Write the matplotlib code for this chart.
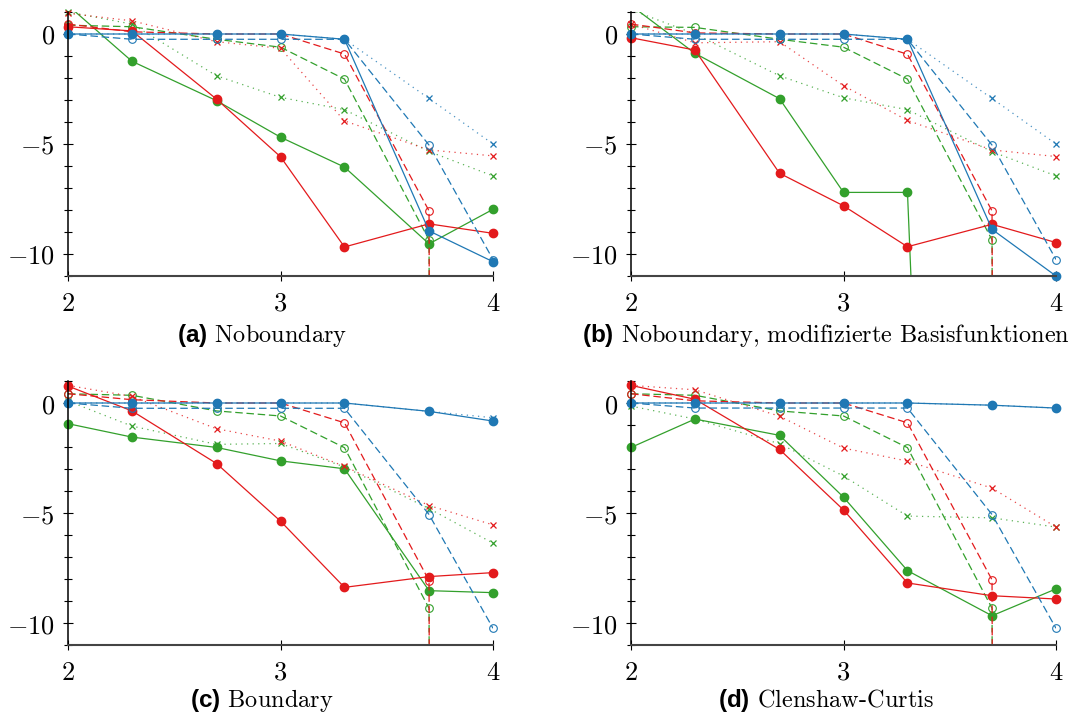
import matplotlib
matplotlib.use('Agg')
import matplotlib.pyplot as plt
import numpy as np

# Schriften: CM fuer Zahlen/Text, fette Sans fuer (a)...(d)
plt.rcParams.update({
    'mathtext.fontset': 'custom',
    'mathtext.rm': 'cmr10',
    'mathtext.it': 'cmmi10',
    'mathtext.bf': 'Liberation Sans:bold',
    'mathtext.fallback': 'cm',
})

# Stuetzstellen (log10 der Punktanzahl)
n_points = [100, 200, 500, 1000, 2000, 5000, 10000]
x = np.log10(n_points)

# (a) Noboundary
a_blue = [0, 0, 0, 0, -0.24, -8.95, -10.35]
a_blue_dash = [0, -0.24, -0.24, -0.24, -0.24, -5.05, -10.25]
a_blue_dot = [0, 0, 0, 0, -0.24, -2.93, -5.0]
a_red = [0.33, 0.14, -2.96, -5.58, -9.68, -8.63, -9.06]
a_red_dash = [0.45, 0.1, 0.0, 0.0, -0.91, -8.04, -1000]
a_red_dot = [0.94, 0.6, -0.35, -0.65, -3.95, -5.27, -5.54]
a_green = [1.3, -1.24, -3.03, -4.69, -6.05, -9.54, -7.97]
a_green_dash = [0.4, 0.33, -0.24, -0.6, -2.05, -9.36, -1000]
a_green_dot = [1.0, 0.45, -1.9, -2.88, -3.44, -5.34, -6.45]

# (b) Noboundary, modifizierte Basisfunktionen
b_blue = [0, 0, 0, 0, -0.24, -8.88, -11.0]
b_blue_dash = [0, -0.24, -0.24, -0.24, -0.24, -5.05, -10.25]
b_blue_dot = [0, 0, 0, 0, -0.24, -2.93, -5.0]
b_red = [-0.17, -0.73, -6.33, -7.81, -9.67, -8.65, -9.48]
b_red_dash = [0.45, 0.05, 0.0, 0.0, -0.92, -8.04, -1000]
b_red_dot = [0.45, -0.4, -0.35, -2.35, -3.93, -5.27, -5.57]
b_green = [1.3, -0.88, -2.94, -7.2, -7.2, -100, -100]
b_green_dash = [0.33, 0.3, -0.24, -0.6, -2.05, -9.36, -1000]
b_green_dot = [1.1, 0.0, -1.9, -2.9, -3.44, -5.35, -6.45]

# (c) Boundary
c_blue = [0, 0, 0, 0, 0, -0.38, -0.82]
c_blue_dash = [0, -0.24, -0.24, -0.24, -0.24, -5.07, -10.24]
c_blue_dot = [0, 0, 0, 0, 0, -0.38, -0.67]
c_red = [0.77, -0.36, -2.75, -5.37, -8.38, -7.89, -7.71]
c_red_dash = [0.42, 0.15, 0.0, 0.0, -0.9, -8.07, -1000]
c_red_dot = [0.8, 0.3, -1.17, -1.73, -2.88, -4.66, -5.54]
c_green = [-0.94, -1.55, -2.02, -2.63, -2.99, -8.53, -8.62]
c_green_dash = [0.42, 0.35, -0.36, -0.59, -2.03, -9.33, -1000]
c_green_dot = [0.09, -1.05, -1.88, -1.84, -2.91, -4.8, -6.37]

# (d) Clenshaw-Curtis
d_blue = [0, 0, 0, 0, 0, -0.1, -0.23]
d_blue_dash = [0, -0.23, -0.23, -0.23, -0.23, -5.07, -10.24]
d_blue_dot = [0, 0, 0, 0, 0, -0.1, -0.23]
d_red = [0.8, 0.17, -2.11, -4.86, -8.18, -8.76, -8.91]
d_red_dash = [0.42, 0.1, 0.0, 0.0, -0.9, -8.04, -1000]
d_red_dot = [0.8, 0.6, -0.6, -2.05, -2.64, -3.87, -5.64]
d_green = [-2.02, -0.73, -1.47, -4.28, -7.62, -9.67, -8.45]
d_green_dash = [0.42, 0.35, -0.36, -0.59, -2.03, -9.33, -1000]
d_green_dot = [-0.14, -0.73, -1.85, -3.32, -5.14, -5.22, -5.64]

captions = ['(a)', '(b)', '(c)', '(d)']
titles = ['Noboundary', 'Noboundary, modifizierte Basisfunktionen',
          'Boundary', 'Clenshaw-Curtis']

blue, red, green = '#1f78b4', '#e31a1c', '#33a02c'
ylim = (-11, 1)

panels = [
    [(a_green_dot, a_green_dash, a_green), (a_red_dot, a_red_dash, a_red), (a_blue_dot, a_blue_dash, a_blue)],
    [(b_green_dot, b_green_dash, b_green), (b_red_dot, b_red_dash, b_red), (b_blue_dot, b_blue_dash, b_blue)],
    [(c_green_dot, c_green_dash, c_green), (c_red_dot, c_red_dash, c_red), (c_blue_dot, c_blue_dash, c_blue)],
    [(d_green_dot, d_green_dash, d_green), (d_red_dot, d_red_dash, d_red), (d_blue_dot, d_blue_dash, d_blue)],
]
colors = [green, red, blue]

W, H = 1081, 715
fig = plt.figure(figsize=(W / 100, H / 100), dpi=100)

# Achsenpositionen in Pixeln: links, oben
lefts = [68, 631, 68, 631]
tops = [12, 12, 381, 381]
cap_x = [262, 826, 262, 826]
cap_y = [342, 342, 707, 707]
aw, ah = 425, 264


def draw_series(ax, y, color, style):
    y = np.asarray(y, dtype=float)
    alpha = 1.0
    if style == 'solid':
        ls, mk, kw = '-', 'o', dict(markersize=6, markerfacecolor=color, markeredgecolor=color)
    elif style == 'dash':
        ls, mk, kw = (0, (6, 3)), 'o', dict(markersize=5.5, markerfacecolor='none',
                                            markeredgecolor=color, markeredgewidth=0.8)
    else:
        alpha = 0.8
        ls, mk, kw = (0, (1, 3.5)), 'x', dict(markersize=4.5, markeredgecolor=color,
                                              markeredgewidth=0.9)
    ax.plot(x, y, linestyle=ls, color=color, linewidth=0.9, alpha=alpha)
    ym = np.where((y >= ylim[0] - 0.05) & (y <= ylim[1]), y, np.nan)
    ax.plot(x, ym, linestyle='none', marker=mk, clip_on=False, **kw)


for i, panel in enumerate(panels):
    ax = fig.add_axes([lefts[i] / W, (H - tops[i] - ah) / H, aw / W, ah / H])
    for color, (dot, dash, solid) in zip(colors, panel):
        draw_series(ax, dot, color, 'dot')
        draw_series(ax, dash, color, 'dash')
        draw_series(ax, solid, color, 'solid')

    ax.set_xlim(2, 4)
    ax.set_ylim(*ylim)
    ax.spines['top'].set_visible(False)
    ax.spines['right'].set_visible(False)
    ax.spines['left'].set_linewidth(1.1)
    ax.spines['bottom'].set_linewidth(1.5)
    ax.spines['bottom'].set_color('#444444')
    ax.set_xticks([2, 3, 4], labels=['$2$', '$3$', '$4$'])
    ax.set_yticks([-10, -5, 0], labels=['$-10$', '$-5$', '$0$'])
    ax.set_yticks(np.arange(-11, 2), minor=True)
    ax.tick_params(which='major', direction='inout', length=7, width=0.8,
                   labelsize=19, color='black')
    ax.tick_params(which='minor', direction='inout', length=6, width=0.8)
    ax.tick_params(axis='x', which='minor', bottom=False)
    ax.tick_params(axis='x', which='major', pad=7)
    ax.tick_params(axis='y', which='major', pad=6)

    fig.text(cap_x[i] / W, (H - cap_y[i]) / H,
             r'$\mathbf{' + captions[i] + r'}$ ' + titles[i],
             family='cmr10', fontsize=17.5, ha='center', va='baseline')

fig.savefig('out.png', dpi=100)
